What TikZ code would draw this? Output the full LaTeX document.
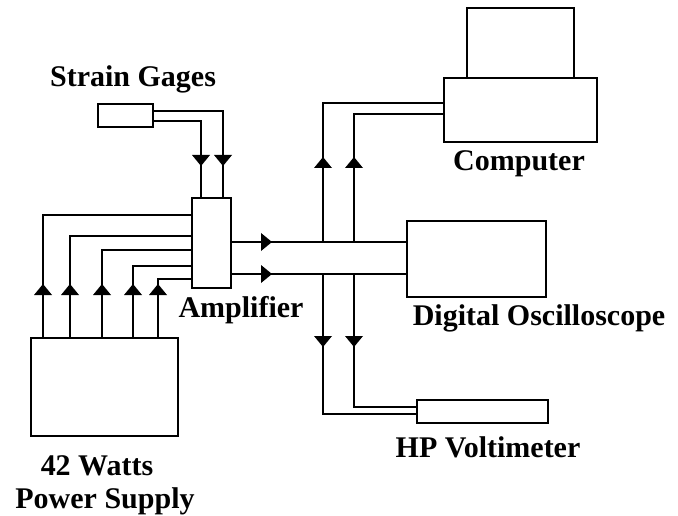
\documentclass[tikz,border=0pt]{standalone}
\usepackage{fontspec}
\setmainfont{Liberation Serif}
\usetikzlibrary{calc}
\begin{document}
\begin{tikzpicture}[x=1pt,y=-1pt,
  box/.style={draw,line width=2pt,inner sep=0pt,fill=white},
  wire/.style={line width=2pt},
  lbl/.style={font=\fontsize{30}{30}\selectfont\bfseries,inner sep=0pt,anchor=base},
  tri/.style={fill=black}]
\useasboundingbox (0,0) rectangle (678,516);
% boxes
\node[box,minimum width=55pt,minimum height=23pt] (sg) at (125.5,115.5) {};
\node[box,minimum width=39pt,minimum height=90pt] (amp) at (211.5,243) {};
\node[box,minimum width=147pt,minimum height=98pt] (ps) at (104.5,387) {};
\node[box,minimum width=107pt,minimum height=70pt] (mon) at (520.5,43) {};
\node[box,minimum width=153pt,minimum height=64pt] (pc) at (520.5,110) {};
\node[box,minimum width=139pt,minimum height=76pt] (osc) at (476.5,259) {};
\node[box,minimum width=131pt,minimum height=23pt] (hp) at (482.5,411.5) {};
% labels
\node[lbl] (lsg) at (133,87) {Strain Gages};
\node[lbl] (lamp) at (241,317) {Amplifier};
\node[lbl] (lpc) at (519,171) {Computer};
\node[lbl] (losc) at (539,325) {Digital Oscilloscope};
\node[lbl] (lhp) at (488,457) {HP Voltimeter};
\node[lbl] (lps1) at (97,475) {42 Watts};
\node[lbl] (lps2) at (105,508) {Power Supply};
% coordinates for bus
\coordinate (b1) at (323,0);
\coordinate (b2) at (354,0);
% strain gage wires
\draw[wire] (sg.east |- 0,111) -| (amp.north -| 223,0);
\draw[wire] (sg.east |- 0,121) -| (amp.north -| 201,0);
\foreach \x in {201,223}{\fill[tri] (\x-9,155) -- (\x+9,155) -- (\x,166) -- cycle;}
% power wires
\foreach \y/\x in {215/43,236/70,250/102,266/133,279/158}{
  \draw[wire] (amp.west |- 0,\y) -| (ps.north -| \x,0);
  \fill[tri] (\x-9,295) -- (\x+9,295) -- (\x,284) -- cycle;
}
% amplifier outputs
\draw[wire] (amp.east |- 0,242) -- (osc.west |- 0,242);
\draw[wire] (amp.east |- 0,274) -- (osc.west |- 0,274);
\foreach \y in {242,274}{\fill[tri] (261,\y-9) -- (261,\y+9) -- (272,\y) -- cycle;}
% computer wires
\draw[wire] (b1 |- 0,242) |- (pc.west |- 0,103);
\draw[wire] (b2 |- 0,242) |- (pc.west |- 0,114);
\foreach \x in {323,354}{\fill[tri] (\x-9,168) -- (\x+9,168) -- (\x,157) -- cycle;}
% voltmeter wires
\draw[wire] (b1 |- 0,274) |- (hp.west |- 0,414);
\draw[wire] (b2 |- 0,274) |- (hp.west |- 0,407);
\foreach \x in {323,354}{\fill[tri] (\x-9,336) -- (\x+9,336) -- (\x,347) -- cycle;}
\end{tikzpicture}
\end{document}
